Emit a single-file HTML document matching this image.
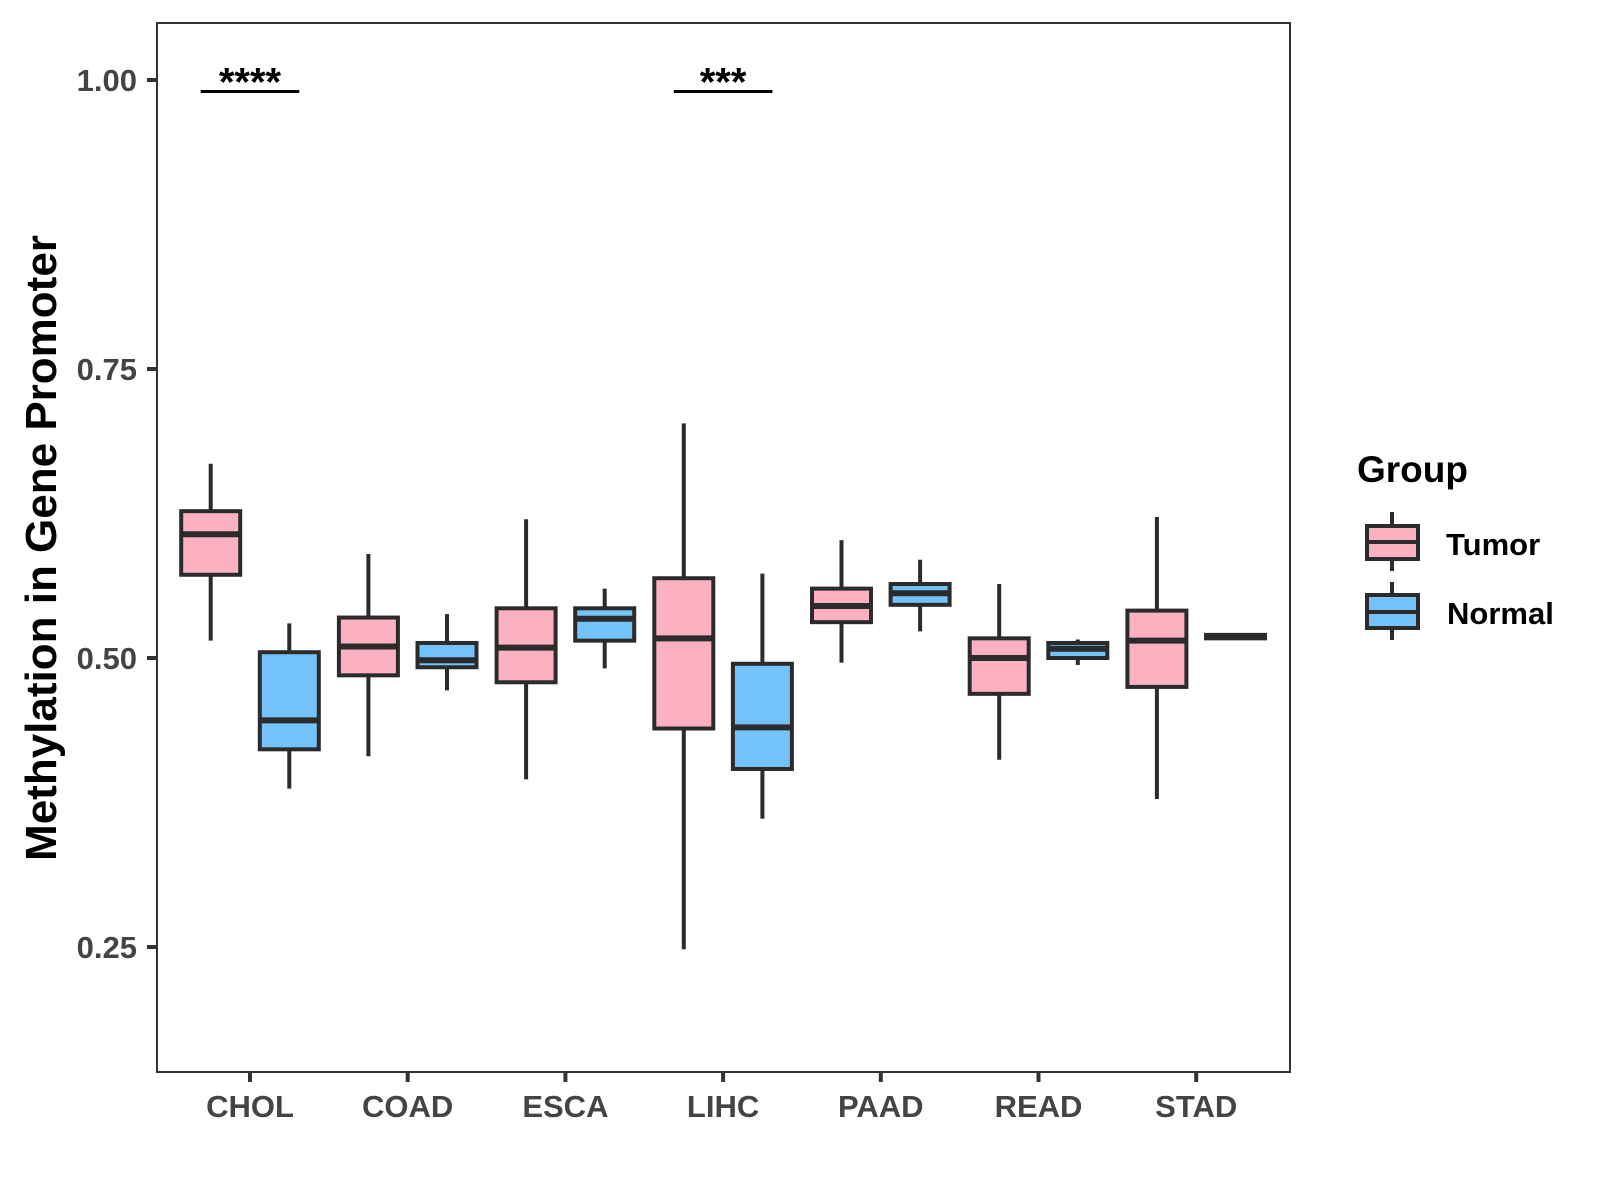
<!DOCTYPE html>
<html><head><meta charset="utf-8"><style>
html,body{margin:0;padding:0;background:#fff;}
svg{display:block;font-family:"Liberation Sans",Arial,sans-serif;}
</style></head><body>
<svg id="chart" width="1600" height="1200" viewBox="0 0 1600 1200" xmlns="http://www.w3.org/2000/svg">
<rect x="0" y="0" width="1600" height="1200" fill="#fff"/>
<g id="marks"></g>
<rect x="157" y="23" width="1133" height="1049" fill="none" stroke="#333" stroke-width="2"/>
<g id="axes"></g>
<text transform="translate(56,548) rotate(-90)" text-anchor="middle" font-size="44" font-weight="bold" fill="#000">Methylation in Gene Promoter</text>
<g>
<text x="1357" y="482" font-size="37" font-weight="bold" fill="#000">Group</text>
<g>
<line x1="1392" y1="512" x2="1392" y2="571" stroke="#2b2b2b" stroke-width="4"/>
<rect x="1367" y="526" width="51" height="33" fill="#FCB1C3" stroke="#2b2b2b" stroke-width="4"/>
<line x1="1367" y1="542" x2="1418" y2="542" stroke="#2b2b2b" stroke-width="4"/>
<text x="1446" y="555" font-size="31" font-weight="bold" fill="#000">Tumor</text>
</g>
<g>
<line x1="1392" y1="582" x2="1392" y2="640" stroke="#2b2b2b" stroke-width="4"/>
<rect x="1367" y="595" width="51" height="33" fill="#74C2FA" stroke="#2b2b2b" stroke-width="4"/>
<line x1="1367" y1="612" x2="1418" y2="612" stroke="#2b2b2b" stroke-width="4"/>
<text x="1447" y="624" font-size="31" font-weight="bold" fill="#000">Normal</text>
</g>
</g>
</svg>
<script>
const categories = ["CHOL","COAD","ESCA","LIHC","PAAD","READ","STAD"];
// [lowerWhisker, Q1, median, Q3, upperWhisker]
const tumorStats = [
 [0.515,0.572,0.607,0.627,0.668],
 [0.415,0.485,0.510,0.535,0.590],
 [0.395,0.479,0.509,0.543,0.620],
 [0.248,0.439,0.517,0.569,0.703],
 [0.496,0.531,0.545,0.560,0.602],
 [0.412,0.469,0.500,0.517,0.564],
 [0.378,0.475,0.515,0.541,0.622]
];
const normalStats = [
 [0.387,0.421,0.446,0.505,0.530],
 [0.472,0.492,0.498,0.513,0.538],
 [0.491,0.515,0.534,0.543,0.560],
 [0.361,0.404,0.440,0.495,0.573],
 [0.523,0.546,0.556,0.564,0.585],
 [0.494,0.500,0.508,0.513,0.516],
 [0.516,0.517,0.519,0.520,0.521]
];
const yTicks = [0.25,0.50,0.75,1.00];
const yTickLabels = ["0.25","0.50","0.75","1.00"];
const sigCategories = ["CHOL","LIHC"];
const sigLabels = ["****","***"];
const sigY = [0.99,0.99];

const NS="http://www.w3.org/2000/svg";
function y(v){return 80+(1-v)*1156;}
function x(i){return 250+i*157.7;}
const DODGE=39.3, BW=59;
function mk(tag,attrs,parent){const e=document.createElementNS(NS,tag);for(const k in attrs)e.setAttribute(k,attrs[k]);parent.appendChild(e);return e;}
const marks=document.getElementById('marks'), axes=document.getElementById('axes');
function drawBox(s,cx,fill,name){
  const g=mk('g',{},marks);
  
  
  mk('line',{x1:cx,x2:cx,y1:y(s[4]),y2:y(s[0]),stroke:'#2b2b2b','stroke-width':4},g);
  mk('rect',{x:cx-BW/2,y:y(s[3]),width:BW,height:Math.max(0.5,y(s[1])-y(s[3])),fill:fill,stroke:'#2b2b2b','stroke-width':4},g);
  mk('line',{x1:cx-BW/2,x2:cx+BW/2,y1:y(s[2]),y2:y(s[2]),stroke:'#2b2b2b','stroke-width':6},g);
}
categories.forEach((c,i)=>{
  drawBox(tumorStats[i],x(i)-DODGE,'#FCB1C3','box-tumor-'+c.toLowerCase());
  drawBox(normalStats[i],x(i)+DODGE,'#74C2FA','box-normal-'+c.toLowerCase());
  const t=mk('line',{x1:x(i),x2:x(i),y1:1072,y2:1082,stroke:'#333','stroke-width':4},axes);
  
  
  const l=mk('text',{x:x(i),y:1117,'text-anchor':'middle','font-size':31,'font-weight':'bold',fill:'#444'},axes);
  
  
  l.textContent=c;
});
yTicks.forEach((v,i)=>{
  const t=mk('line',{x1:147,x2:157,y1:y(v),y2:y(v),stroke:'#333','stroke-width':4},axes);
  
  
  const l=mk('text',{x:137,y:y(v)+11,'text-anchor':'end','font-size':31,'font-weight':'bold',fill:'#444'},axes);
  
  
  l.textContent=yTickLabels[i];
});
sigCategories.forEach((c,k)=>{
  const i=categories.indexOf(c);
  const g=mk('g',{},marks);
  
  
  mk('line',{x1:x(i)-DODGE-10,x2:x(i)+DODGE+10,y1:y(sigY[k]),y2:y(sigY[k]),stroke:'#000','stroke-width':3},g);
  const t=mk('text',{x:x(i),y:y(sigY[k])+4,'text-anchor':'middle','font-size':40,'font-weight':'bold',fill:'#000'},g);
  t.textContent=sigLabels[k];
});
</script>
</body></html>
